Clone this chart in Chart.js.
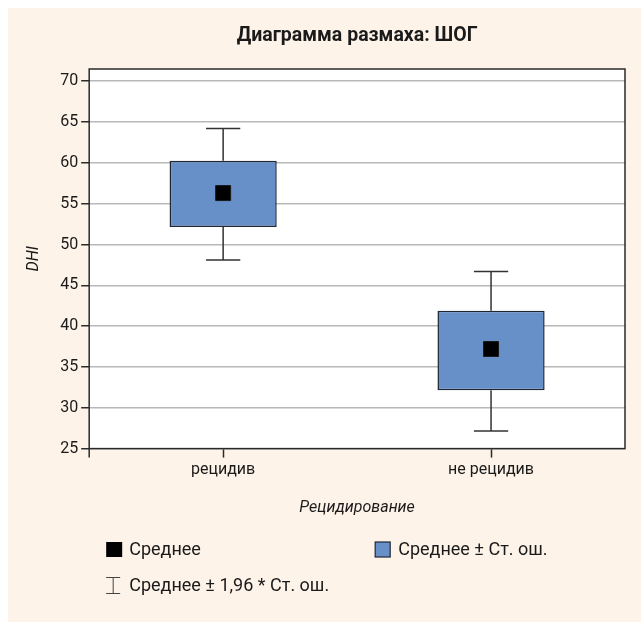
<!DOCTYPE html>
<html>
<head>
<meta charset="utf-8">
<script src="https://cdn.jsdelivr.net/npm/chart.js@4.4.1/dist/chart.umd.min.js"></script>
<style>
  html, body { margin: 0; padding: 0; background: #ffffff; }
  #wrap { width: 641px; height: 622px; position: relative; }
</style>
</head>
<body>
<div id="wrap"><canvas id="chart" width="641" height="622"></canvas></div>
<script>
    'use strict'

    const categories = ['рецидив', 'не рецидив']
    const means = [56.3, 37.2]
    const boxLow = [52.15, 32.15]
    const boxHigh = [60.25, 41.9]
    const whiskerLow = [48.1, 27.15]
    const whiskerHigh = [64.2, 46.7]
    const yTickValues = [25, 30, 35, 40, 45, 50, 55, 60, 65, 70]
    const yMin = 25
    const yMax = 71.5

    const legendLabels = ['Среднее', 'Среднее ± Ст. ош.', 'Среднее ± 1,96 * Ст. ош.']

    const COLORS = {
        panel: '#fdf3e9',
        box: '#6890c8',
        boxBorder: '#1e2732',
        line: '#333333',
        grid: '#b8b8b8',
        text: '#1a1a1a',
    }
    const FONT = 'Roboto'

    const backgroundPlugin = {
        id: 'background',
        beforeDraw(chart) {
            const {ctx, chartArea} = chart
            ctx.save()
            ctx.fillStyle = COLORS.panel
            ctx.fillRect(8, 8, chart.width - 8, chart.height - 8)
            ctx.fillStyle = '#ffffff'
            ctx.fillRect(chartArea.left, chartArea.top, chartArea.right - chartArea.left, chartArea.bottom - chartArea.top)
            ctx.restore()
        },
        beforeDatasetsDraw(chart) {
            const {ctx, chartArea} = chart
            ctx.save()
            ctx.strokeStyle = '#2a2a2a'
            ctx.lineWidth = 1.5
            ctx.strokeRect(chartArea.left, chartArea.top, chartArea.right - chartArea.left, chartArea.bottom - chartArea.top)
            // left spine runs a little below the x axis
            ctx.beginPath()
            ctx.moveTo(chartArea.left, chartArea.bottom)
            ctx.lineTo(chartArea.left, chartArea.bottom + 9)
            ctx.stroke()
            ctx.restore()
        },
    }

    const whiskerPlugin = {
        id: 'whiskers',
        afterDatasetsDraw(chart) {
            const {ctx, scales: {x, y}} = chart
            const bars = chart.getDatasetMeta(0).data
            ctx.save()
            ctx.strokeStyle = COLORS.line
            ctx.lineWidth = 1.5
            categories.forEach((c, i) => {
                const px = x.getPixelForValue(i)
                const cap = bars[i].width * 0.16
                const pairs = [[boxHigh[i], whiskerHigh[i]], [boxLow[i], whiskerLow[i]]]
                pairs.forEach(([from, to]) => {
                    const y0 = y.getPixelForValue(from)
                    const y1 = y.getPixelForValue(to)
                    ctx.beginPath()
                    ctx.moveTo(px, y0)
                    ctx.lineTo(px, y1)
                    ctx.moveTo(px - cap, y1)
                    ctx.lineTo(px + cap, y1)
                    ctx.stroke()
                })
            })
            ctx.restore()
        },
    }

    const textPlugin = {
        id: 'texts',
        afterDraw(chart) {
            const {ctx, chartArea} = chart
            ctx.save()
            ctx.fillStyle = COLORS.text
            ctx.textBaseline = 'middle'
            ctx.textAlign = 'center'
            ctx.font = 'bold 19.5px ' + FONT
            ctx.fillText('Диаграмма размаха: ШОГ', (chartArea.left + chartArea.right) / 2, 36)

            // legend
            ctx.textAlign = 'left'
            ctx.font = '18px ' + FONT
            const left = chartArea.left + 17
            const row1 = 550
            const row2 = 586
            ctx.fillStyle = '#000000'
            ctx.fillRect(left, row1 - 8, 16, 15)
            ctx.fillStyle = COLORS.text
            ctx.fillText(legendLabels[0], left + 23, row1)

            const left2 = left + 269
            ctx.fillStyle = COLORS.box
            ctx.fillRect(left2, row1 - 8, 15, 15)
            ctx.strokeStyle = COLORS.boxBorder
            ctx.lineWidth = 1.2
            ctx.strokeRect(left2, row1 - 8, 15, 15)
            ctx.fillStyle = COLORS.text
            ctx.fillText(legendLabels[1], left2 + 23, row1)

            ctx.strokeStyle = '#444444'
            ctx.lineWidth = 1
            ctx.beginPath()
            ctx.moveTo(left, row2 - 8.5)
            ctx.lineTo(left + 14, row2 - 8.5)
            ctx.moveTo(left + 7, row2 - 8.5)
            ctx.lineTo(left + 7, row2 + 7.5)
            ctx.moveTo(left, row2 + 7.5)
            ctx.lineTo(left + 14, row2 + 7.5)
            ctx.stroke()
            ctx.fillText(legendLabels[2], left + 23, row2)
            ctx.restore()
        },
    }

    new Chart(document.getElementById('chart'), {
        type: 'bar',
        data: {
            labels: categories,
            datasets: [
                {
                    label: legendLabels[1],
                    data: categories.map((c, i) => [boxLow[i], boxHigh[i]]),
                    backgroundColor: COLORS.box,
                    borderColor: COLORS.boxBorder,
                    borderWidth: 1.5,
                    borderSkipped: false,
                    barPercentage: 0.4,
                    categoryPercentage: 1.0,
                    order: 2,
                },
                {
                    type: 'line',
                    label: legendLabels[0],
                    data: means,
                    showLine: false,
                    pointStyle: 'rect',
                    pointRadius: 10.6,
                    pointHoverRadius: 10.6,
                    backgroundColor: '#000000',
                    borderColor: '#1a1a1a',
                    borderWidth: 1,
                    order: 1,
                },
            ],
        },
        options: {
            responsive: false,
            animation: false,
            events: [],
            layout: {
                padding: {top: 69, left: 24, right: 16, bottom: 104},
            },
            plugins: {
                legend: {display: false},
                tooltip: {enabled: false},
            },
            scales: {
                x: {
                    offset: true,
                    border: {display: false},
                    grid: {
                        offset: false,
                        drawOnChartArea: false,
                        drawTicks: true,
                        tickLength: 9,
                        tickColor: '#2a2a2a',
                        tickWidth: 1.5,
                    },
                    ticks: {
                        color: COLORS.text,
                        font: {family: FONT, size: 16},
                        padding: 3,
                    },
                    title: {
                        display: true,
                        text: 'Рецидирование',
                        color: COLORS.text,
                        font: {family: FONT, size: 16, style: 'italic'},
                        padding: {top: 16, bottom: 0},
                    },
                },
                y: {
                    min: yMin,
                    max: yMax,
                    border: {display: false},
                    afterBuildTicks(scale) {
                        scale.ticks = yTickValues.map(v => ({value: v}))
                    },
                    grid: {
                        color: COLORS.grid,
                        lineWidth: 1.5,
                        drawTicks: true,
                        tickLength: 8,
                        tickColor: '#2a2a2a',
                        tickWidth: 1.5,
                    },
                    ticks: {
                        color: COLORS.text,
                        font: {family: FONT, size: 16},
                        padding: 3,
                    },
                    title: {
                        display: true,
                        text: 'DHI',
                        color: COLORS.text,
                        font: {family: FONT, size: 16, style: 'italic'},
                        padding: {top: 0, bottom: 14},
                    },
                },
            },
        },
        plugins: [backgroundPlugin, whiskerPlugin, textPlugin],
    })
</script>
</body>
</html>
